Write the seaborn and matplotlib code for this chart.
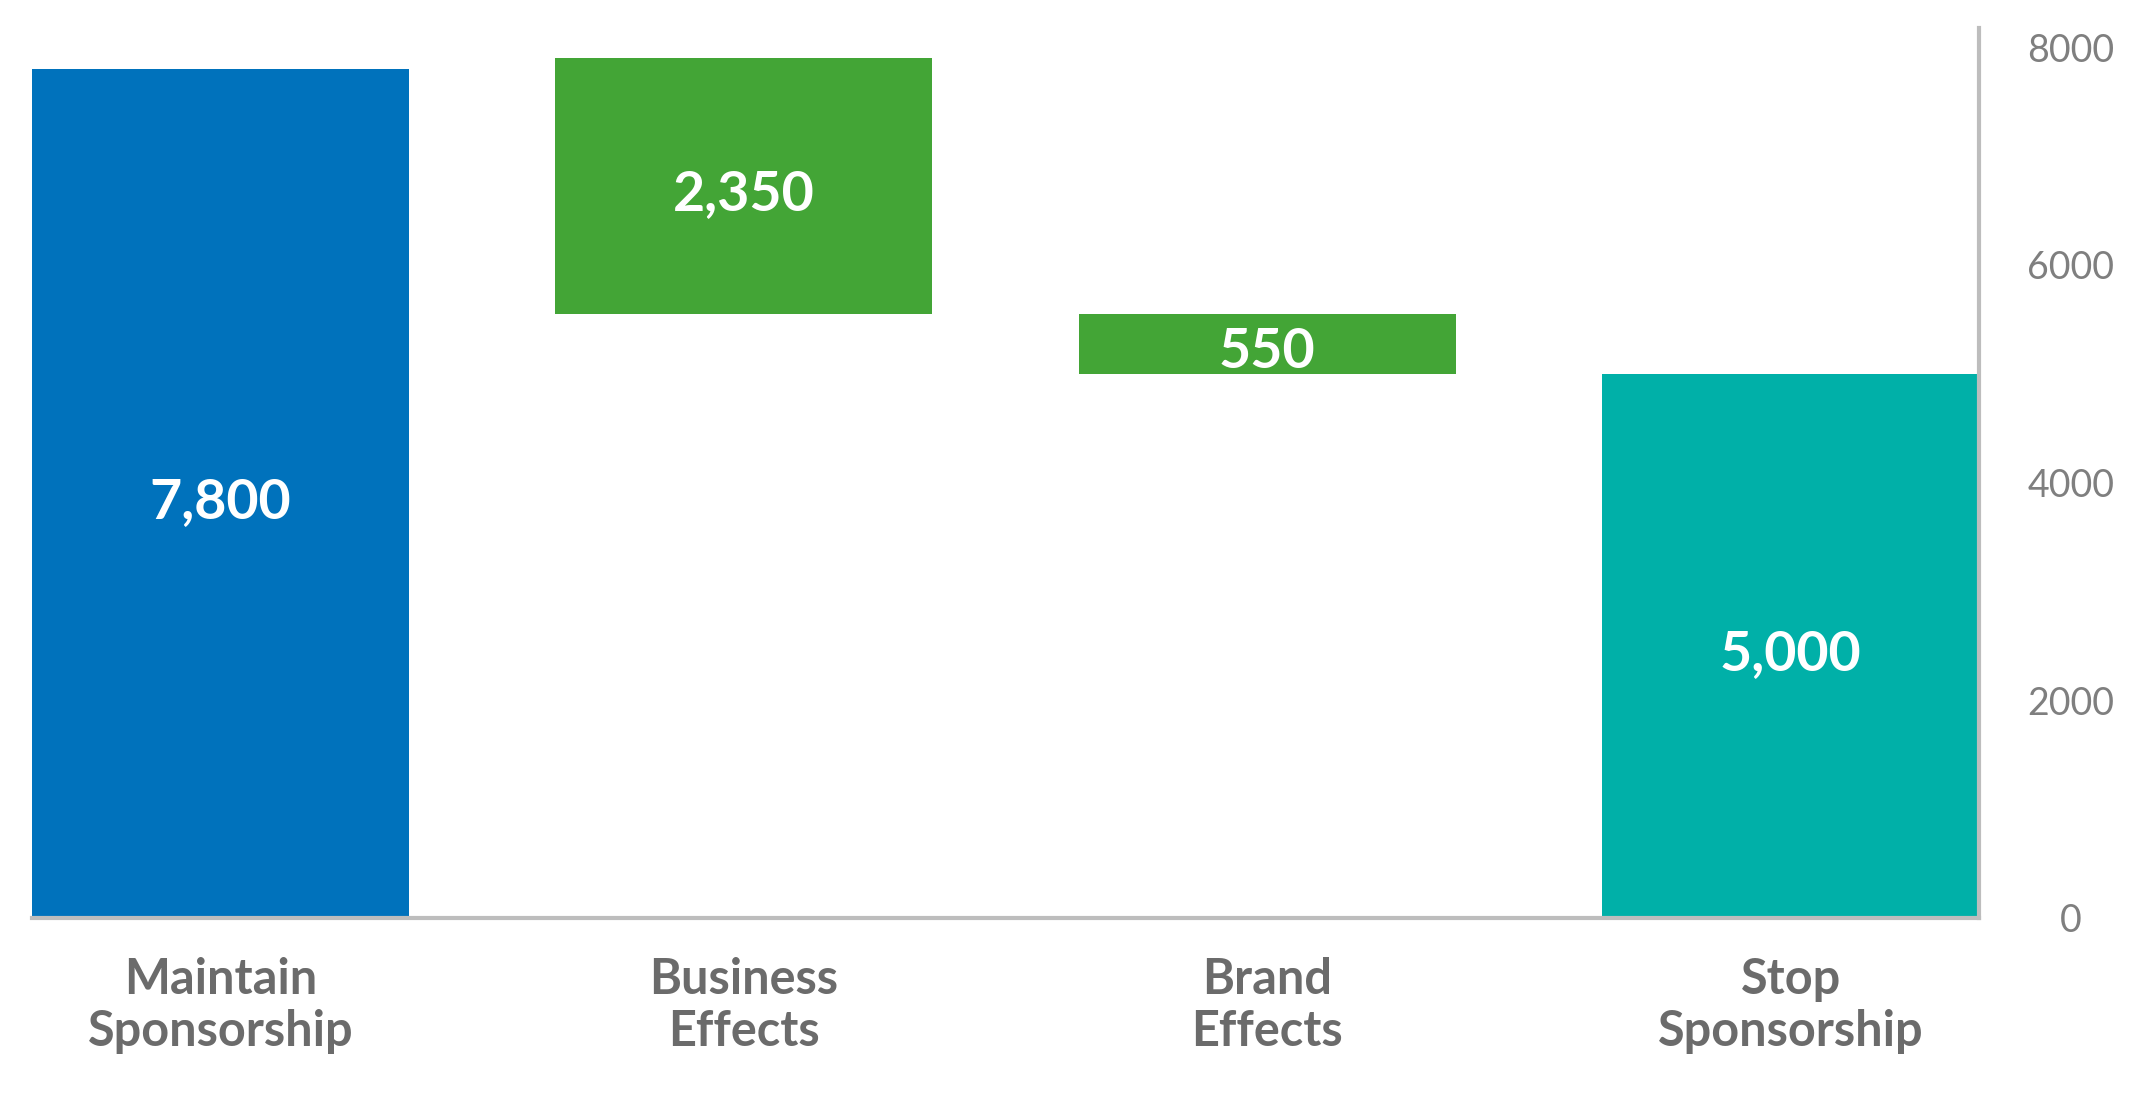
import matplotlib
matplotlib.use("Agg")
import matplotlib.pyplot as plt
import seaborn as sns
import pandas as pd

# ---- data ----
categories = ["Maintain\nSponsorship", "Business\nEffects", "Brand\nEffects", "Stop\nSponsorship"]
lengths = [7800, 2350, 550, 5000]
bottoms = [0, 5550, 5000, 0]
value_labels = ["7,800", "2,350", "550", "5,000"]
colors = ["#0072BC", "#43A536", "#43A536", "#00B0A8"]
yticks = [0, 2000, 4000, 6000, 8000]

sns.set_theme(style="white")
plt.rcParams["font.family"] = ["Lato", "DejaVu Sans"]

df = pd.DataFrame({"cat": categories, "val": lengths})

fig = plt.figure(figsize=(21.48, 11.08), dpi=100)
ax = fig.add_axes([32 / 2148, 1 - 918 / 1108, (1979 - 32) / 2148, (918 - 28) / 1108])

sns.barplot(data=df, x="cat", y="val", hue="cat", palette=colors,
            order=categories, hue_order=categories, width=0.72,
            legend=False, ax=ax, saturation=1, linewidth=0)

for patch, b, v, lab in zip(ax.patches, bottoms, lengths, value_labels):
    patch.set_y(b)
    patch.set_height(v)
    cx = patch.get_x() + patch.get_width() / 2
    ax.annotate(lab, (cx, b + v / 2), xytext=(0, -6), textcoords="offset points",
                ha="center", va="center", color="white",
                fontsize=40, fontweight="bold")

ax.set_xlim(-0.36, 3.36)
ax.set_ylim(0, 8176)
ax.set_xlabel("")
ax.set_ylabel("")

ax.yaxis.tick_right()
ax.set_yticks(yticks)
ax.set_yticklabels([str(t) for t in yticks], ha="center")
ax.tick_params(axis="y", length=0, pad=66, labelsize=27, labelcolor="#7f7f7f")
ax.tick_params(axis="x", length=0, pad=28, labelsize=35, labelcolor="#6b6b6b")
for t in ax.get_xticklabels():
    t.set_fontweight("bold")
    t.set_linespacing(1.2)

for s in ["top", "left"]:
    ax.spines[s].set_visible(False)
for s in ["right", "bottom"]:
    ax.spines[s].set_visible(True)
    ax.spines[s].set_color("#bdbdbd")
    ax.spines[s].set_linewidth(3)

fig.savefig("out.png", dpi=100, facecolor="white")
